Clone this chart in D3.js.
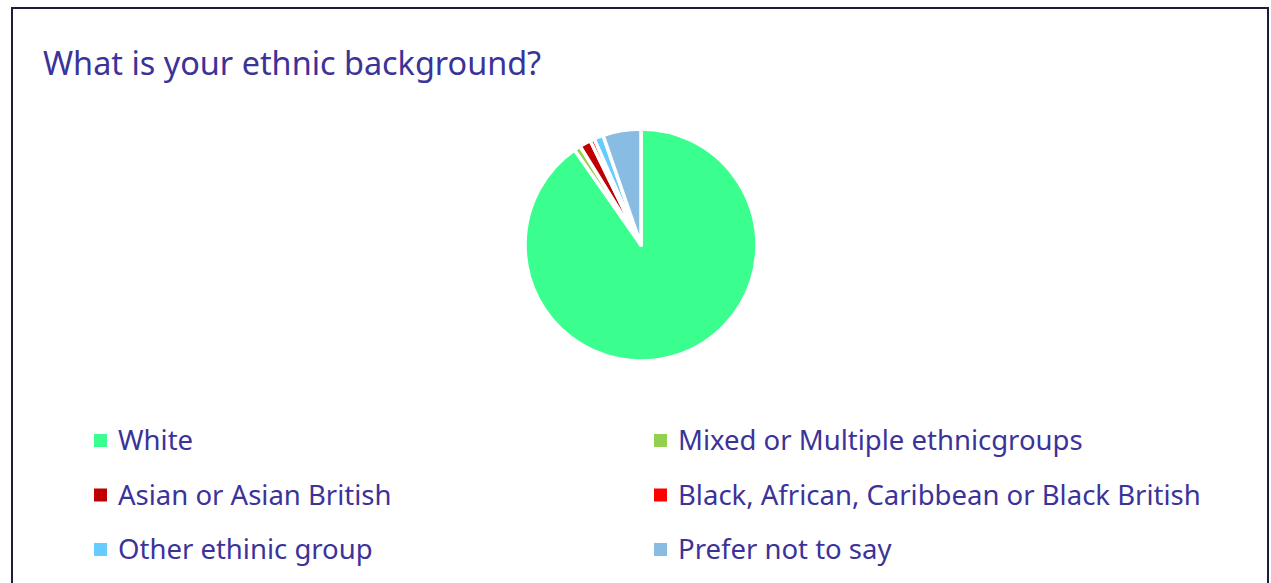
<!DOCTYPE html>
<meta charset="utf-8">
<html>
<head>
<style>
  body { margin: 0; background: #fff; }
  text { font-family: "Noto Sans", "Open Sans", sans-serif; fill: #3b3399; }
</style>
</head>
<body>
<svg width="1271" height="583"></svg>
<script src="https://d3js.org/d3.v7.min.js"></script>
<script>

var categories = ["White", "Mixed or Multiple ethnicgroups", "Asian or Asian British",
                  "Black, African, Caribbean or Black British", "Other ethinic group", "Prefer not to say"];
var values = [90.3, 0.9, 1.6, 0.6, 1.3, 5.3];
var colors = ["#3aff8f", "#92d050", "#c00000", "#ff0000", "#66ccff", "#88bce2"];
var title = "What is your ethnic background?";

var svg = d3.select("svg");

// frame
svg.append("rect")
    .attr("x", 12).attr("y", 8)
    .attr("width", 1256).attr("height", 600)
    .attr("fill", "none")
    .attr("stroke", "#1c1c3c")
    .attr("stroke-width", 2);

svg.append("text")
    .attr("x", 43).attr("y", 75)
    .style("font-size", "32.4px")
    .text(title);

var data = categories.map(function (c, i) { return {name: c, value: values[i], color: colors[i]}; });

var pie = d3.pie().sort(null).value(function (d) { return d.value; });
var arc = d3.arc().innerRadius(0).outerRadius(116);

var g = svg.append("g").attr("transform", "translate(641,245)");

g.selectAll("path")
    .data(pie(data))
    .enter().append("path")
    .attr("d", arc)
    .attr("fill", function (d) { return d.data.color; })
    .attr("stroke", "#fff")
    .attr("stroke-width", 3.5)
    .attr("stroke-linejoin", "round");

// legend, two columns
var colX = d3.scaleOrdinal().domain([0, 1]).range([94, 654]);
var rowY = d3.scaleLinear().domain([0, 1]).range([434, 488.5]);

var leg = svg.selectAll(".leg")
    .data(data)
    .enter().append("g")
    .attr("class", "leg")
    .attr("transform", function (d, i) { return "translate(" + colX(i % 2) + "," + rowY(Math.floor(i / 2)) + ")"; });

leg.append("rect")
    .attr("width", 13).attr("height", 13)
    .attr("fill", function (d) { return d.color; });

leg.append("text")
    .attr("x", 24).attr("y", 16)
    .style("font-size", "27.5px")
    .text(function (d) { return d.name; });

</script>
</body>
</html>
